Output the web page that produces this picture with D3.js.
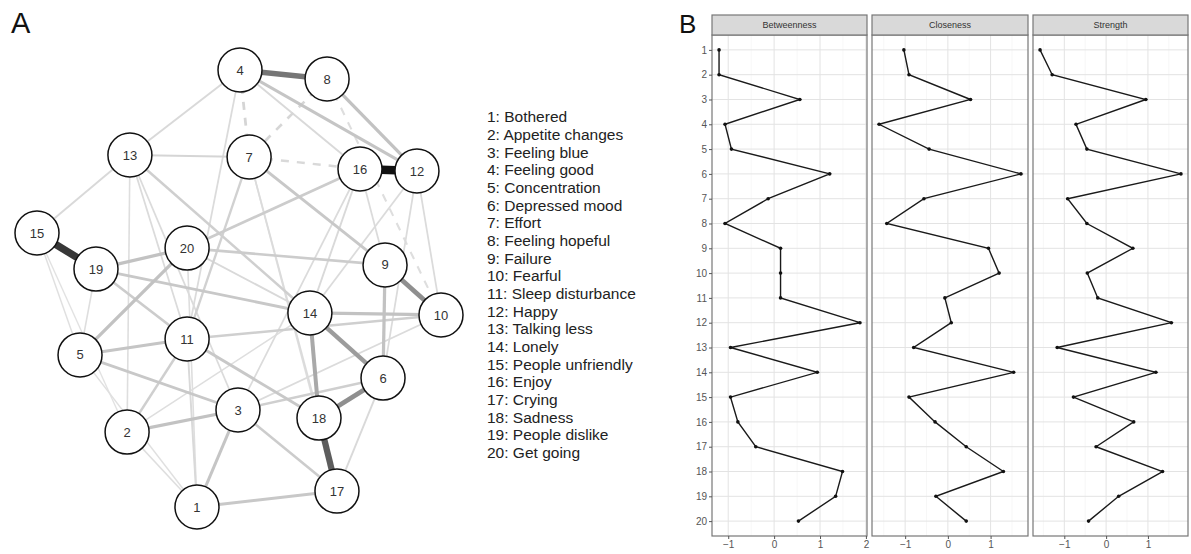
<!DOCTYPE html>
<html>
<head>
<meta charset="utf-8">
<script src="https://cdn.jsdelivr.net/npm/d3@7"></script>
<style>
  body { margin: 0; background: #fff; }
  text { font-family: "Liberation Sans", Arial, sans-serif; }
</style>
</head>
<body>
<div id="chart"></div>
<script>
// node labels and layout (qgraph-like coordinates, -1..1)
var nodeIds = d3.range(1, 21);
var nodeNames = ["Bothered", "Appetite changes", "Feeling blue", "Feeling good", "Concentration",
  "Depressed mood", "Effort", "Feeling hopeful", "Failure", "Fearful", "Sleep disturbance",
  "Happy", "Talking less", "Lonely", "People unfriendly", "Enjoy", "Crying", "Sadness",
  "People dislike", "Get going"];
var layoutX = [-0.208, -0.554, -0.005, 0.005, -0.787, 0.713, 0.050, 0.436, 0.723, 1.000,
  -0.257, 0.881, -0.540, 0.351, -1.000, 0.599, 0.485, 0.396, -0.708, -0.257];
var layoutY = [-1.000, -0.657, -0.556, 1.000, -0.304, -0.410, 0.602, 0.959, 0.108, -0.121,
  -0.231, 0.538, 0.611, -0.112, 0.254, 0.547, -0.927, -0.593, 0.089, 0.185];

// edges: from, to, weight (absolute), negative (dashed)
var edgeFrom = [16, 15, 18, 4, 9, 6, 14, 14, 20, 19, 8, 4, 14, 5, 2, 3, 9, 7, 19, 11, 5, 1, 3, 20, 16, 19, 13, 2, 7, 3, 11, 13,
  4, 13, 4, 4, 13, 13, 13, 16, 12, 12, 16, 6, 11, 2, 5, 15, 15, 7, 7, 10, 20, 19, 20, 16, 12, 2,
  4, 8, 7, 8];
var edgeTo = [12, 19, 17, 8, 10, 18, 6, 18, 5, 20, 12, 12, 10, 11, 3, 1, 6, 9, 14, 18, 3, 17, 17, 9, 20, 11, 14, 11, 11, 6, 10, 7,
  13, 15, 16, 11, 11, 2, 3, 9, 14, 6, 3, 17, 1, 1, 1, 5, 2, 17, 18, 3, 1, 5, 14, 14, 10, 14,
  7, 7, 16, 10];
var edgeWeight = [1.0, 0.85, 0.7, 0.6, 0.5, 0.5, 0.45, 0.4, 0.3, 0.3, 0.3, 0.28, 0.3, 0.28, 0.3, 0.28, 0.3, 0.25, 0.25, 0.25, 0.25, 0.25, 0.22, 0.22, 0.22, 0.22, 0.2, 0.2, 0.18, 0.2, 0.2, 0.15,
  0.12, 0.12, 0.12, 0.1, 0.1, 0.08, 0.1, 0.1, 0.1, 0.1, 0.1, 0.12, 0.12, 0.08, 0.06, 0.06, 0.05, 0.08, 0.1, 0.1, 0.08, 0.08, 0.12, 0.12, 0.1, 0.08,
  0.15, 0.14, 0.12, 0.08];
var edgeNeg = [0, 0, 0, 0, 0, 0, 0, 0, 0, 0, 0, 0, 0, 0, 0, 0, 0, 0, 0, 0, 0, 0, 0, 0, 0, 0, 0, 0, 0, 0, 0, 0,
  0, 0, 0, 0, 0, 0, 0, 0, 0, 0, 0, 0, 0, 0, 0, 0, 0, 0, 0, 0, 0, 0, 0, 0, 0, 0,
  1, 1, 1, 1];

// centrality indices (z-scores) per node 1..20
var betweenness = [-1.20, -1.20, 0.56, -1.07, -0.93, 1.21, -0.13, -1.07, 0.14, 0.14,
  0.14, 1.87, -0.95, 0.94, -0.95, -0.79, -0.40, 1.49, 1.34, 0.53];
var closeness = [-1.03, -0.91, 0.53, -1.61, -0.44, 1.71, -0.56, -1.43, 0.95, 1.20,
  -0.07, 0.08, -0.80, 1.54, -0.91, -0.30, 0.43, 1.30, -0.28, 0.43];
var strength = [-1.58, -1.29, 0.95, -0.72, -0.46, 1.79, -0.92, -0.46, 0.64, -0.45,
  -0.20, 1.56, -1.17, 1.19, -0.78, 0.66, -0.24, 1.35, 0.30, -0.42];
var measureNames = ["Betweenness", "Closeness", "Strength"];

var width = 1191, height = 554;

var svg = d3.select("#chart")
  .append("svg")
    .attr("width", width)
    .attr("height", height);

// ---------- panel A: network ----------
var nodes = nodeIds.map(function(id, i) { return {id: id, lx: layoutX[i], ly: layoutY[i]}; });
var edges = edgeFrom.map(function(f, i) {
  return {from: f, to: edgeTo[i], w: edgeWeight[i], neg: edgeNeg[i]};
}).sort(function(a, b) { return a.w - b.w; });

var nx = d3.scaleLinear().domain([-1, 1]).range([37, 441]);
var ny = d3.scaleLinear().domain([-1, 1]).range([507, 70]);
var ew = d3.scaleLinear().domain([0, 1]).range([1, 8.5]);
var ec = d3.scaleLinear().domain([0, 0.3, 1]).range(["#e8e8e8", "#c2c2c2", "#111111"]);

var gA = svg.append("g");

gA.append("g")
  .selectAll("line")
  .data(edges)
  .enter()
  .append("line")
    .attr("x1", function(d) { return nx(layoutX[d.from - 1]); })
    .attr("y1", function(d) { return ny(layoutY[d.from - 1]); })
    .attr("x2", function(d) { return nx(layoutX[d.to - 1]); })
    .attr("y2", function(d) { return ny(layoutY[d.to - 1]); })
    .attr("stroke", function(d) { return ec(d.w); })
    .attr("stroke-width", function(d) { return ew(d.w) * (d.neg ? 1.3 : 1); })
    .attr("stroke-dasharray", function(d) { return d.neg ? "8,8" : null; });

var node = gA.append("g")
  .selectAll("g")
  .data(nodes)
  .enter()
  .append("g")
    .attr("transform", function(d) { return "translate(" + nx(d.lx) + "," + ny(d.ly) + ")"; });

node.append("circle")
  .attr("r", 22)
  .attr("fill", "#fff")
  .attr("stroke", "#111")
  .attr("stroke-width", 1.5);

node.append("text")
  .attr("text-anchor", "middle")
  .attr("dy", "0.35em")
  .attr("font-size", 13)
  .attr("fill", "#333")
  .text(function(d) { return d.id; });

// legend
var ly = d3.scalePoint().domain(nodeIds).range([117, 452.7]);
gA.append("g")
  .selectAll("text")
  .data(nodeIds)
  .enter()
  .append("text")
    .attr("x", 487)
    .attr("y", function(d) { return ly(d); })
    .attr("dy", "0.35em")
    .attr("font-size", 15.5)
    .attr("fill", "#222")
    .text(function(d, i) { return d + ": " + nodeNames[i]; });

svg.append("text").attr("x", 11).attr("y", 33).attr("font-size", 29).attr("fill", "#111").text("A");
svg.append("text").attr("x", 679).attr("y", 33).attr("font-size", 26).attr("fill", "#111").text("B");

// ---------- panel B: centrality plot ----------
var series = [betweenness, closeness, strength];
var panelLeft = [712, 872, 1033], panelRight = [867, 1028, 1188];
var stripTop = 15, stripH = 20, plotTop = 35, plotBottom = 536;

var y = d3.scalePoint()
  .domain(nodeIds)
  .range([plotTop, plotBottom])
  .padding(0.6);

var line = d3.line();

series.forEach(function(vals, k) {
  var ext = d3.extent(vals), pad = (ext[1] - ext[0]) * 0.05;
  var x = d3.scaleLinear()
    .domain([ext[0] - pad, ext[1] + pad])
    .range([panelLeft[k], panelRight[k]]);

  var g = svg.append("g");

  // minor grid
  var minor = d3.range(Math.ceil(x.domain()[0] * 2) / 2, x.domain()[1], 0.5)
    .filter(function(v) { return Math.abs(v % 1) > 0.1; });
  g.selectAll(".minor").data(minor).enter().append("line")
    .attr("x1", function(d) { return x(d); }).attr("x2", function(d) { return x(d); })
    .attr("y1", plotTop).attr("y2", plotBottom)
    .attr("stroke", "#f2f2f2").attr("stroke-width", 0.6);

  // major grid
  var ticks = x.ticks(4).filter(function(v) { return v % 1 === 0; });
  g.selectAll(".vmaj").data(ticks).enter().append("line")
    .attr("x1", function(d) { return x(d); }).attr("x2", function(d) { return x(d); })
    .attr("y1", plotTop).attr("y2", plotBottom)
    .attr("stroke", "#e3e3e3").attr("stroke-width", 1);
  g.selectAll(".hmaj").data(nodeIds).enter().append("line")
    .attr("x1", panelLeft[k]).attr("x2", panelRight[k])
    .attr("y1", function(d) { return y(d); }).attr("y2", function(d) { return y(d); })
    .attr("stroke", "#e3e3e3").attr("stroke-width", 1);

  // line + points
  var pts = vals.map(function(v, i) { return [x(v), y(nodeIds[i])]; });
  g.append("path")
    .attr("d", line(pts))
    .attr("fill", "none")
    .attr("stroke", "#1a1a1a")
    .attr("stroke-width", 1.4);
  g.selectAll("circle").data(pts).enter().append("circle")
    .attr("cx", function(d) { return d[0]; })
    .attr("cy", function(d) { return d[1]; })
    .attr("r", 1.8)
    .attr("fill", "#111");

  // panel border
  g.append("rect")
    .attr("x", panelLeft[k]).attr("y", plotTop)
    .attr("width", panelRight[k] - panelLeft[k]).attr("height", plotBottom - plotTop)
    .attr("fill", "none").attr("stroke", "#777").attr("stroke-width", 1.2);

  // strip
  g.append("rect")
    .attr("x", panelLeft[k]).attr("y", stripTop)
    .attr("width", panelRight[k] - panelLeft[k]).attr("height", stripH)
    .attr("fill", "#d9d9d9").attr("stroke", "#777").attr("stroke-width", 1.2);
  g.append("text")
    .attr("x", (panelLeft[k] + panelRight[k]) / 2)
    .attr("y", stripTop + stripH / 2)
    .attr("dy", "0.35em")
    .attr("text-anchor", "middle")
    .attr("font-size", 9)
    .attr("fill", "#333")
    .text(measureNames[k]);

  // x axis
  var ax = g.append("g")
    .attr("transform", "translate(0," + plotBottom + ")")
    .call(d3.axisBottom(x).tickValues(ticks).tickSize(3).tickPadding(2).tickFormat(d3.format("d")));
  ax.select(".domain").remove();
  ax.selectAll("line").attr("stroke", "#555");
  ax.selectAll("text").attr("font-size", 10).attr("fill", "#555")
    .style("font-family", "'Liberation Sans', Arial, sans-serif");

  // y axis (first panel only)
  if (k === 0) {
    var ay = g.append("g")
      .attr("transform", "translate(" + panelLeft[k] + ",0)")
      .call(d3.axisLeft(y).tickSize(3).tickPadding(2));
    ay.select(".domain").remove();
    ay.selectAll("line").attr("stroke", "#555");
    ay.selectAll("text").attr("font-size", 10).attr("fill", "#555")
      .style("font-family", "'Liberation Sans', Arial, sans-serif");
  }
});
</script>
</body>
</html>
